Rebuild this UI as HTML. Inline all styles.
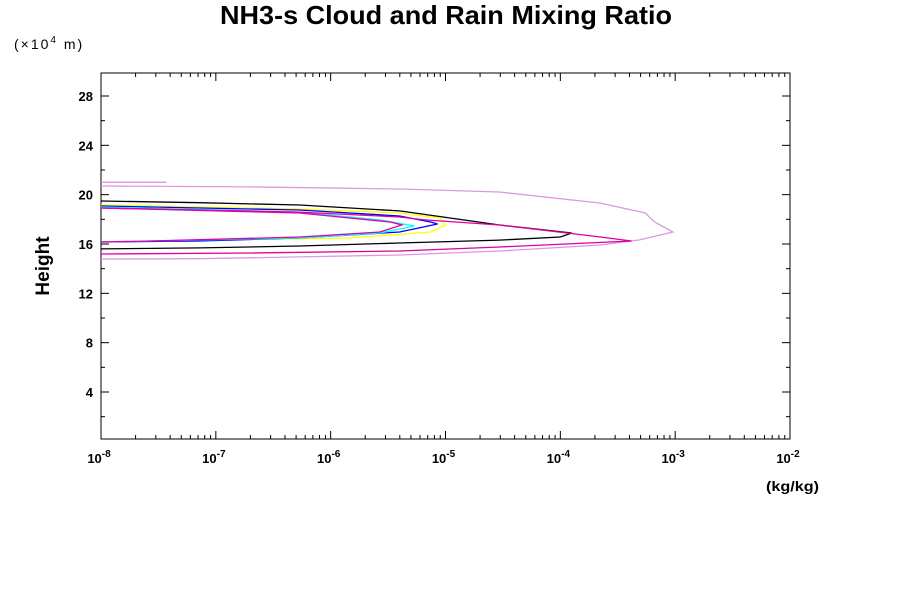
<!DOCTYPE html>
<html><head><meta charset="utf-8"><style>
body{margin:0;background:#fff;font-family:"Liberation Sans",sans-serif}
</style></head><body>
<svg id="chart" width="900" height="600" xmlns="http://www.w3.org/2000/svg" font-family="Liberation Sans, sans-serif">
<rect width="900" height="600" fill="#fff"/>
<text x="446" y="24" text-anchor="middle" font-size="26" font-weight="bold" textLength="452" lengthAdjust="spacingAndGlyphs">NH3-s Cloud and Rain Mixing Ratio</text>
<text x="14" y="49" font-size="14" letter-spacing="2">(×10<tspan dy="-6" font-size="10">4</tspan><tspan dy="6"> m)</tspan></text>
<text x="49" y="266" text-anchor="middle" font-size="19" font-weight="bold" transform="rotate(-90 49 266)">Height</text>
<text x="766" y="491" font-size="14" font-weight="bold" textLength="53" lengthAdjust="spacingAndGlyphs">(kg/kg)</text>
<g id="axes"></g>
<g id="series"></g>
</svg>
<script>
const yTicks=[4,8,12,16,20,24,28];
const xDecades=[-8,-7,-6,-5,-4,-3,-2];
const violetH=[14.78,14.81,14.95,15.11,15.43,15.92,16.33,16.97,17.78,18.51,19.32,20.22,20.46,20.63,20.7];
const violetX=[-8,-7.14,-6.27,-5.40,-4.53,-3.65,-3.31,-3.02,-3.18,-3.26,-3.65,-4.53,-5.40,-6.70,-8];
const violetTopH=[21.0,21.0];
const violetTopX=[-8,-7.43];
const magentaH=[15.19,15.27,15.43,15.76,16.24,16.57,17.54,17.95,18.19,18.59,18.92];
const magentaX=[-8,-6.70,-5.40,-4.53,-3.38,-3.65,-4.53,-5.18,-5.40,-6.27,-8];
const blackH=[15.60,15.68,15.84,16.08,16.32,16.57,16.89,17.54,18.11,18.68,19.16,19.35,19.49];
const blackX=[-8,-7.14,-6.27,-5.40,-4.53,-4.00,-3.90,-4.53,-4.96,-5.40,-6.27,-7.14,-8];
const yellowH=[16.16,16.32,16.49,16.97,17.54,18.11,18.51,18.84,19.16];
const yellowX=[-8,-7.14,-5.83,-5.13,-5.00,-5.05,-5.40,-6.27,-8];
const blueH=[16.16,16.24,16.49,16.97,17.62,17.78,18.27,18.76,19.08];
const blueX=[-8,-7.14,-6.27,-5.40,-5.07,-5.13,-5.40,-6.27,-8];
const cyanH=[16.16,16.49,16.89,17.46,17.95,18.59,19.0];
const cyanX=[-8,-6.27,-5.57,-5.27,-5.57,-6.27,-8];
const innerH=[16.16,16.24,16.57,16.97,17.54,17.78,18.51,18.92];
const innerX=[-8,-7.57,-6.27,-5.57,-5.38,-5.48,-6.27,-8];

const L=101,R=790,T=73,B=439;
const xs=v=>L+(v+8)*(R-L)/6;
const ys=h=>392-(h-4)*(296/24);
const NS="http://www.w3.org/2000/svg";
function mk(tag,attrs,parent){const e=document.createElementNS(NS,tag);for(const k in attrs)e.setAttribute(k,attrs[k]);parent.appendChild(e);return e;}
const ax=document.getElementById('axes');
const frame=mk('rect',{x:L,y:T,width:R-L,height:B-T,fill:'none',stroke:'#000','stroke-width':1},ax);


for(let h=2;h<=29;h+=2){
  const y=ys(h),len=(h%4===0)?8:4;
  const t=mk('line',{x1:L,x2:L+len,y1:y,y2:y,stroke:'#000'},ax);
  
  
  const t2=mk('line',{x1:R,x2:R-len,y1:y,y2:y,stroke:'#000'},ax);
  
  
}
yTicks.forEach(v=>{
  const t=mk('text',{x:L-8,y:ys(v)+5,'text-anchor':'end','font-size':13,'font-weight':'bold'},ax);
  t.textContent=v;
  
  
});
xDecades.forEach((d,i)=>{
  const x=xs(d);
  [[B,B-8],[T,T+8]].forEach(p=>{const t=mk('line',{x1:x,x2:x,y1:p[0],y2:p[1],stroke:'#000'},ax);
    
    });
  if(i<xDecades.length-1){for(let m=2;m<=9;m++){const xm=xs(d+Math.log10(m));
    [[B,B-4],[T,T+4]].forEach(p=>{const t=mk('line',{x1:xm,x2:xm,y1:p[0],y2:p[1],stroke:'#000'},ax);
      
      });}}
  const lb=mk('text',{x:x-2,y:B+24,'text-anchor':'middle','font-size':13,'font-weight':'bold'},ax);
  lb.innerHTML='10<tspan dy="-6" font-size="10">'+d+'</tspan>';
  
  
});
const sg=document.getElementById('series');
function line(H,X,color,name){
  const pts=H.map((h,i)=>xs(X[i]).toFixed(1)+','+ys(h).toFixed(1)).join(' ');
  const p=mk('polyline',{points:pts,fill:'none',stroke:color,'stroke-width':1.3},sg);
  
  
}
line(violetH,violetX,'#dd99dd','series-violet');
line(violetTopH,violetTopX,'#dd99dd','series-violet-top');
line(blackH,blackX,'#000000','series-black');
line(yellowH,yellowX,'#ffff00','series-yellow');
line(blueH,blueX,'#0000ff','series-blue');
line(cyanH,cyanX,'#00ffff','series-cyan');
line(innerH,innerX,'#e000a0','series-magenta-inner');
line(magentaH,magentaX,'#e000a0','series-magenta');
</script>
</body></html>
